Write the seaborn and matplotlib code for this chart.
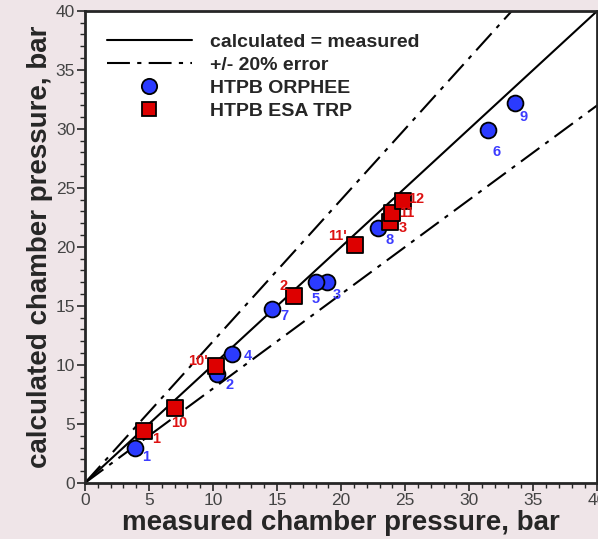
import numpy as np
import pandas as pd
import matplotlib
matplotlib.use("Agg")
import matplotlib.pyplot as plt
import seaborn as sns
from matplotlib.ticker import MultipleLocator
from matplotlib.lines import Line2D

# ---- data ----
orphee_measured = [3.9, 10.3, 18.9, 11.5, 18.0, 31.5, 14.6, 22.9, 33.6]
orphee_calculated = [3.0, 9.2, 17.0, 10.9, 17.0, 29.9, 14.7, 21.6, 32.2]
orphee_labels = ["1", "2", "3", "4", "5", "6", "7", "8", "9"]

esa_measured = [4.6, 7.05, 10.25, 16.3, 21.1, 23.8, 24.0, 24.8]
esa_calculated = [4.4, 6.35, 9.9, 15.85, 20.2, 22.1, 22.9, 23.9]
esa_labels = ["1", "10", "10'", "2", "11'", "3", "11", "12"]

ref_range = [0, 40]
err_frac = 0.20

# label offsets in points (x right, y up)
orphee_offsets = [(8, -7), (9, -8), (7, -9), (11, -1), (0, -12), (6, -16), (9, -5), (8, -9), (6, -10)]
esa_offsets = [(9, -6), (3, -11), (-13, 4), (-7, 7), (-13, 6), (9, -4), (10, 0), (10, 1)]

sns.set_style("ticks")
plt.rcParams['font.family'] = ['Liberation Sans', 'DejaVu Sans']

fig = plt.figure(figsize=(5.98, 5.39), dpi=100, facecolor="#efe5e8")
ax = fig.add_axes([0.142, 0.104, 0.857, 0.876])
ax.set_facecolor("white")

ref = np.array(ref_range, dtype=float)
sns.lineplot(x=ref, y=ref, ax=ax, color="black", lw=1.5, label="calculated = measured")
sns.lineplot(x=ref, y=ref * (1 + err_frac), ax=ax, color="black", lw=1.5,
             dashes=False, label="+/- 20% error")
sns.lineplot(x=ref, y=ref * (1 - err_frac), ax=ax, color="black", lw=1.5,
             dashes=False)
for ln in ax.lines[1:3]:
    ln.set_dashes((11, 3.5, 2, 3.5))

df_o = pd.DataFrame({"m": orphee_measured, "c": orphee_calculated})
df_e = pd.DataFrame({"m": esa_measured, "c": esa_calculated})
sns.scatterplot(data=df_o, x="m", y="c", ax=ax, marker="o", s=130,
                color="#2b3bff", edgecolor="black", linewidth=1.3,
                label="HTPB ORPHEE", zorder=5)
sns.scatterplot(data=df_e, x="m", y="c", ax=ax, marker="s", s=120,
                color="#dd0000", edgecolor="black", linewidth=1.3,
                label="HTPB ESA TRP", zorder=6)

for xm, yc, lab, off in zip(orphee_measured, orphee_calculated, orphee_labels, orphee_offsets):
    ax.annotate(lab, (xm, yc), xytext=off, textcoords="offset points",
                ha="center", va="center", fontsize=10.5, fontweight="bold",
                color="#3c3cff", zorder=7)
for xm, yc, lab, off in zip(esa_measured, esa_calculated, esa_labels, esa_offsets):
    ax.annotate(lab, (xm, yc), xytext=off, textcoords="offset points",
                ha="center", va="center", fontsize=10.5, fontweight="bold",
                color="#dd1111", zorder=7)

ax.set_xlim(0, 40)
ax.set_ylim(0, 40)
ax.xaxis.set_major_locator(MultipleLocator(5))
ax.yaxis.set_major_locator(MultipleLocator(5))
ax.xaxis.set_minor_locator(MultipleLocator(1))
ax.yaxis.set_minor_locator(MultipleLocator(1))
ax.tick_params(which="major", direction="out", length=6, width=1.2,
               labelsize=12.5, labelcolor="#444444", pad=1)
ax.tick_params(which="minor", direction="out", length=3.5, width=1.0)
for s in ax.spines.values():
    s.set_linewidth(2)
    s.set_visible(True)

ax.set_xlabel("measured chamber pressure, bar", fontsize=20, fontweight="bold", labelpad=2)
ax.set_ylabel("calculated chamber pressure, bar", fontsize=20, fontweight="bold", labelpad=2)

handles = [
    Line2D([], [], color="black", lw=1.5),
    Line2D([], [], color="black", lw=1.5, dashes=(11, 3.5, 2, 3.5)),
    Line2D([], [], marker="o", ls="none", markersize=11, markerfacecolor="#2b3bff",
           markeredgecolor="black", markeredgewidth=1.3),
    Line2D([], [], marker="s", ls="none", markersize=10, markerfacecolor="#dd0000",
           markeredgecolor="black", markeredgewidth=1.3),
]
labels = ["calculated = measured", "+/- 20% error", "HTPB ORPHEE", "HTPB ESA TRP"]
ax.legend(handles, labels, loc="upper left", frameon=False, handlelength=4.4,
          handletextpad=0.9, labelspacing=0.28, bbox_to_anchor=(0.008, 0.99),
          prop={"weight": "bold", "size": 14})

fig.savefig("out.png", dpi=100, facecolor=fig.get_facecolor())
